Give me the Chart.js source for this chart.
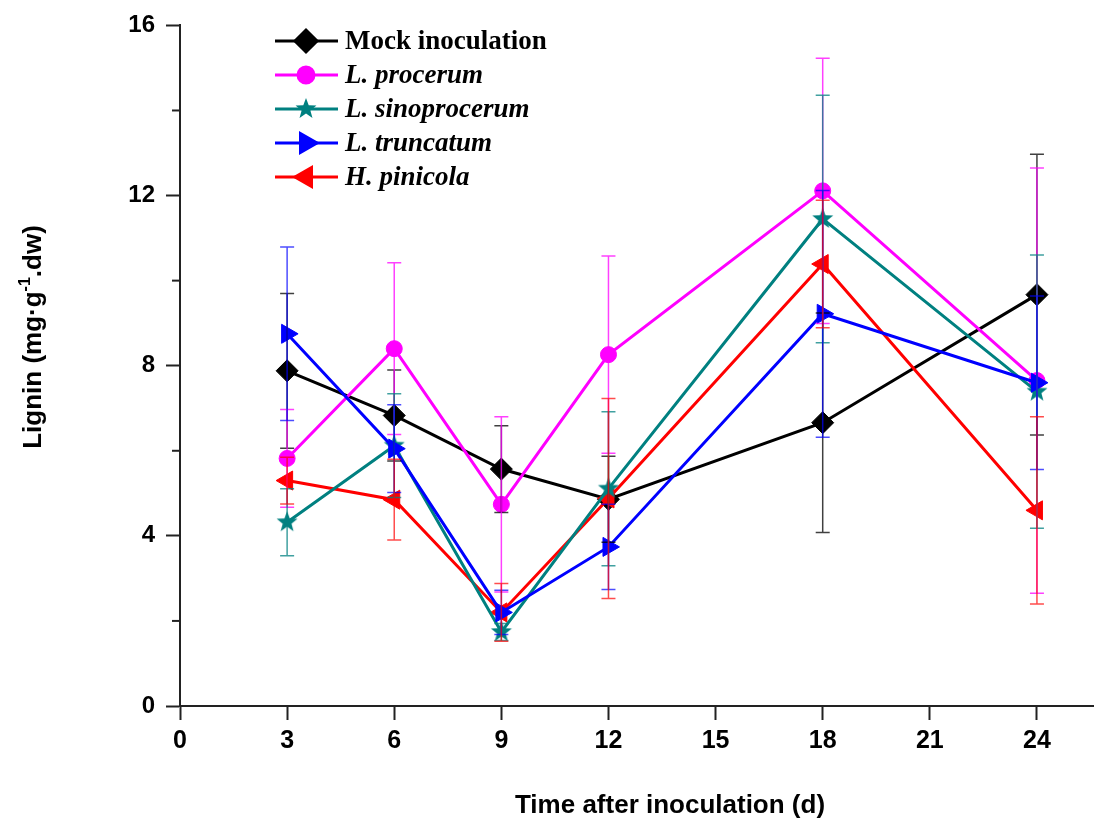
<!DOCTYPE html>
<html>
<head>
<meta charset="utf-8">
<title>Lignin content after inoculation</title>
<script src="https://cdn.jsdelivr.net/npm/chart.js@4.4.1/dist/chart.umd.min.js"></script>
<style>
  html, body { margin: 0; padding: 0; background: #fff; }
  canvas { display: block; }
</style>
</head>
<body>
<canvas id="ligninChart" width="1096" height="822"></canvas>
<script>
// sampling days (x) and axis ticks
const days = [3, 6, 9, 12, 18, 24];
const xTicks = [0, 3, 6, 9, 12, 15, 18, 21, 24];
const yTicks = [0, 4, 8, 12, 16];
const yMinorTicks = [2, 6, 10, 14];

// lignin (mg/g dw) means and error bars per treatment
const mockValues = [7.88, 6.83, 5.57, 4.86, 6.66, 9.67];
const mockErr = [1.82, 1.07, 1.02, 1.01, 2.58, 3.30];
const procerumValues = [5.82, 8.40, 4.74, 8.26, 12.11, 7.65];
const procerumErr = [1.15, 2.02, 2.06, 2.32, 3.12, 5.00];
const sinoprocerumValues = [4.32, 6.12, 1.74, 5.11, 11.45, 7.39];
const sinoprocerumErr = [0.79, 1.22, 0.20, 1.81, 2.91, 3.21];
const truncatumValues = [8.75, 6.05, 2.20, 3.74, 9.22, 7.60];
const truncatumErr = [2.04, 1.03, 0.52, 1.00, 2.90, 2.04];
const pinicolaValues = [5.30, 4.85, 2.20, 4.88, 10.39, 4.60];
const pinicolaErr = [0.55, 0.95, 0.68, 2.35, 1.50, 2.20];

function starImage(color, r) {
  const c = document.createElement('canvas');
  c.width = c.height = 2 * r + 2;
  const g = c.getContext('2d');
  g.translate(r + 1, r + 1);
  g.beginPath();
  for (let k = 0; k < 10; k++) {
    const rad = k % 2 ? r * 0.42 : r;
    const a = -Math.PI / 2 + k * Math.PI / 5;
    g.lineTo(rad * Math.cos(a), rad * Math.sin(a));
  }
  g.closePath();
  g.fillStyle = color;
  g.fill();
  return c;
}

const series = [
  { label: 'Mock inoculation', italic: false, values: mockValues, err: mockErr,
    color: '#000000', errColor: 'rgba(0,0,0,0.75)', style: 'rectRot', radius: 11, rotation: 0, order: 5 },
  { label: 'L. procerum', italic: true, values: procerumValues, err: procerumErr,
    color: '#ff00ff', errColor: 'rgba(255,0,255,0.75)', style: 'circle', radius: 8, rotation: 0, order: 4 },
  { label: 'L. sinoprocerum', italic: true, values: sinoprocerumValues, err: sinoprocerumErr,
    color: '#008080', errColor: 'rgba(0,128,128,0.75)', style: starImage('#008080', 11), radius: 11, rotation: 0, order: 2 },
  { label: 'L. truncatum', italic: true, values: truncatumValues, err: truncatumErr,
    color: '#0000ff', errColor: 'rgba(0,0,255,0.7)', style: 'triangle', radius: 11, rotation: 90, order: 1 },
  { label: 'H. pinicola', italic: true, values: pinicolaValues, err: pinicolaErr,
    color: '#ff0000', errColor: 'rgba(255,0,0,0.7)', style: 'triangle', radius: 11, rotation: -90, order: 3 }
];

const axisColor = '#222';
const sansBold = "'Liberation Sans', Arial, sans-serif";

// error bars, minor ticks, axis titles and the legend
const decor = {
  id: 'decor',
  afterDatasetsDraw(chart) {
    const { ctx, scales: { x, y } } = chart;
    series.forEach(s => {
      ctx.save();
      ctx.strokeStyle = s.errColor;
      ctx.lineWidth = 1.5;
      days.forEach((d, i) => {
        const px = x.getPixelForValue(d);
        const top = y.getPixelForValue(s.values[i] + s.err[i]);
        const bot = y.getPixelForValue(s.values[i] - s.err[i]);
        ctx.beginPath();
        ctx.moveTo(px, top); ctx.lineTo(px, bot);
        ctx.moveTo(px - 7, top); ctx.lineTo(px + 7, top);
        ctx.moveTo(px - 7, bot); ctx.lineTo(px + 7, bot);
        ctx.stroke();
      });
      ctx.restore();
    });
  },
  afterDraw(chart) {
    const { ctx, chartArea, scales: { x, y } } = chart;
    ctx.save();
    // minor y ticks
    ctx.strokeStyle = axisColor;
    ctx.lineWidth = 2;
    yMinorTicks.forEach(v => {
      const py = y.getPixelForValue(v);
      ctx.beginPath();
      ctx.moveTo(chartArea.left - 8, py);
      ctx.lineTo(chartArea.left, py);
      ctx.stroke();
    });

    // x axis title
    ctx.fillStyle = '#000';
    ctx.font = 'bold 26px ' + sansBold;
    ctx.textAlign = 'center';
    ctx.textBaseline = 'alphabetic';
    ctx.fillText('Time after inoculation (d)', 670, 813);

    // y axis title with superscript
    const parts = [
      { t: 'Lignin (mg\u00b7g', size: 26, rise: 0 },
      { t: '-1', size: 16, rise: 11 },
      { t: '.dw)', size: 26, rise: 0 }
    ];
    ctx.translate(41, 337);
    ctx.rotate(-Math.PI / 2);
    ctx.textAlign = 'left';
    let total = 0;
    parts.forEach(p => { ctx.font = 'bold ' + p.size + 'px ' + sansBold; p.w = ctx.measureText(p.t).width; total += p.w; });
    let cx = -total / 2;
    parts.forEach(p => {
      ctx.font = 'bold ' + p.size + 'px ' + sansBold;
      ctx.fillText(p.t, cx, -p.rise);
      cx += p.w;
    });
    ctx.restore();

    // legend: line segment with marker, then name
    ctx.save();
    series.forEach((s, i) => {
      const ly = 41 + i * 34;
      ctx.strokeStyle = s.color;
      ctx.lineWidth = 3;
      ctx.beginPath();
      ctx.moveTo(275, ly); ctx.lineTo(338, ly);
      ctx.stroke();
      ctx.fillStyle = s.color;
      Chart.helpers.drawPoint(ctx, { pointStyle: s.style, radius: s.radius, rotation: s.rotation, borderWidth: 1 }, 306, ly);
      ctx.fillStyle = '#000';
      ctx.font = (s.italic ? 'italic ' : '') + "bold 27px 'Liberation Serif', 'Times New Roman', serif";
      ctx.textAlign = 'left';
      ctx.textBaseline = 'middle';
      ctx.fillText(s.label, 345, ly + 1);
    });
    ctx.restore();
  }
};

new Chart(document.getElementById('ligninChart'), {
  type: 'line',
  data: {
    datasets: series.map(s => ({
      label: s.label,
      data: days.map((d, i) => ({ x: d, y: s.values[i] })),
      borderColor: s.color,
      backgroundColor: s.color,
      borderWidth: 3,
      pointStyle: s.style,
      pointRadius: s.radius,
      pointRotation: s.rotation,
      pointBorderWidth: 1,
      pointBorderColor: s.color,
      pointBackgroundColor: s.color,
      tension: 0,
      order: s.order
    }))
  },
  options: {
    responsive: false,
    animation: false,
    layout: { autoPadding: false, padding: { left: 0, top: 24, right: 3, bottom: 0 } },
    plugins: {
      legend: { display: false },
      tooltip: { enabled: false }
    },
    scales: {
      x: {
        type: 'linear',
        min: 0,
        max: 25.57,
        afterBuildTicks: scale => { scale.ticks = xTicks.map(v => ({ value: v })); },
        afterFit: scale => { scale.height = 116; },
        border: { color: axisColor, width: 2 },
        grid: { drawOnChartArea: false, tickLength: 14, tickColor: axisColor, tickWidth: 2 },
        ticks: { color: '#000', padding: 6, font: { family: sansBold, size: 25, weight: 'bold' } }
      },
      y: {
        min: 0,
        max: 16,
        afterBuildTicks: scale => { scale.ticks = yTicks.map(v => ({ value: v })); },
        afterFit: scale => { scale.width = 180; },
        border: { color: axisColor, width: 2 },
        grid: { drawOnChartArea: false, tickLength: 14, tickColor: axisColor, tickWidth: 2 },
        ticks: { color: '#000', padding: 11, font: { family: sansBold, size: 24, weight: 'bold' } }
      }
    }
  },
  plugins: [decor]
});
</script>
</body>
</html>
